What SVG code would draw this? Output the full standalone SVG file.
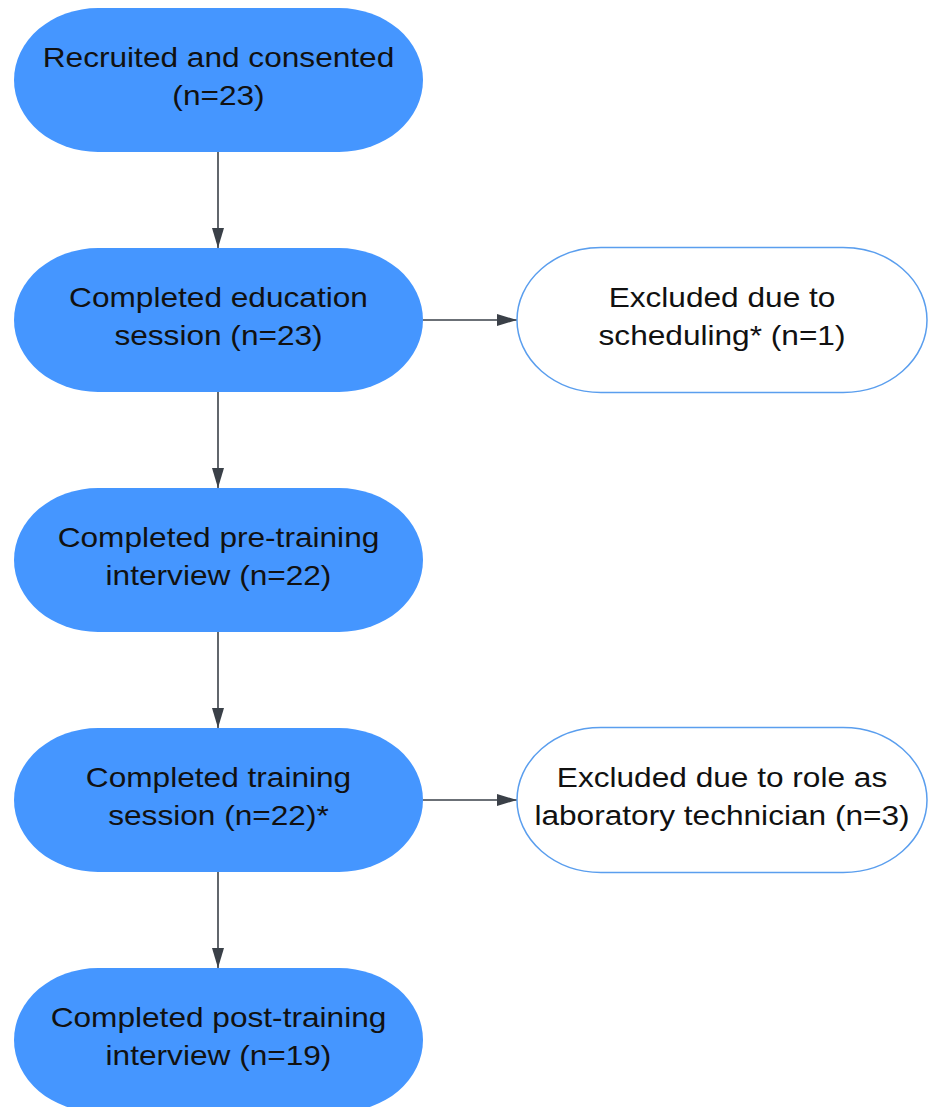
<svg xmlns="http://www.w3.org/2000/svg" width="930" height="1107" viewBox="0 0 930 1107">
  <defs>
    <style>
      .step { fill: #4596FF; stroke: none; }
      .excl { fill: #FFFFFF; stroke: #5A9EEE; stroke-width: 1.5; }
      .lbl { font-family: "Liberation Sans", Arial, sans-serif; font-size: 27.5px; fill: #111111; text-anchor: middle; }
      .link { stroke: #3A4048; stroke-width: 1.6; fill: none; }
    </style>
    <marker id="arrow" viewBox="0 0 20 12" refX="20" refY="6" markerWidth="20" markerHeight="12" markerUnits="userSpaceOnUse" orient="auto">
      <path d="M0,0 L20,6 L0,12 Z" fill="#3A4048"/>
    </marker>
  </defs>

  <rect width="930" height="1107" fill="#FFFFFF"/>

  <!-- connectors -->
  <g id="connectors">
    <line class="link" x1="218" y1="152" x2="218" y2="248" marker-end="url(#arrow)"/>
    <line class="link" x1="218" y1="392" x2="218" y2="488" marker-end="url(#arrow)"/>
    <line class="link" x1="218" y1="632" x2="218" y2="728" marker-end="url(#arrow)"/>
    <line class="link" x1="218" y1="872" x2="218" y2="968" marker-end="url(#arrow)"/>
    <line class="link" x1="423" y1="320" x2="517" y2="320" marker-end="url(#arrow)"/>
    <line class="link" x1="423" y1="800" x2="517" y2="800" marker-end="url(#arrow)"/>
  </g>

  <!-- main flow -->
  <g id="recruited">
    <rect class="step" x="14" y="8" width="409" height="144" rx="84" ry="72"/>
    <g transform="translate(218.5 0) scale(1.15 1)">
      <text class="lbl" x="0" y="67">Recruited and consented</text>
      <text class="lbl" x="0" y="105">(n=23)</text>
    </g>
  </g>

  <g id="education">
    <rect class="step" x="14" y="248" width="409" height="144" rx="84" ry="72"/>
    <g transform="translate(218.5 0) scale(1.15 1)">
      <text class="lbl" x="0" y="307">Completed education</text>
      <text class="lbl" x="0" y="345">session (n=23)</text>
    </g>
  </g>

  <g id="pre-interview">
    <rect class="step" x="14" y="488" width="409" height="144" rx="84" ry="72"/>
    <g transform="translate(218.5 0) scale(1.15 1)">
      <text class="lbl" x="0" y="547">Completed pre-training</text>
      <text class="lbl" x="0" y="585">interview (n=22)</text>
    </g>
  </g>

  <g id="training">
    <rect class="step" x="14" y="728" width="409" height="144" rx="84" ry="72"/>
    <g transform="translate(218.5 0) scale(1.15 1)">
      <text class="lbl" x="0" y="787">Completed training</text>
      <text class="lbl" x="0" y="825">session (n=22)*</text>
    </g>
  </g>

  <g id="post-interview">
    <rect class="step" x="14" y="968" width="409" height="144" rx="84" ry="72"/>
    <g transform="translate(218.5 0) scale(1.15 1)">
      <text class="lbl" x="0" y="1027">Completed post-training</text>
      <text class="lbl" x="0" y="1065">interview (n=19)</text>
    </g>
  </g>

  <!-- exclusions -->
  <g id="excluded-scheduling">
    <rect class="excl" x="517" y="247.5" width="410" height="145" rx="84" ry="72.5"/>
    <g transform="translate(722 0) scale(1.15 1)">
      <text class="lbl" x="0" y="307">Excluded due to</text>
      <text class="lbl" x="0" y="345">scheduling* (n=1)</text>
    </g>
  </g>

  <g id="excluded-lab-tech">
    <rect class="excl" x="517" y="727.5" width="410" height="145" rx="84" ry="72.5"/>
    <g transform="translate(722 0) scale(1.15 1)">
      <text class="lbl" x="0" y="787">Excluded due to role as</text>
      <text class="lbl" x="0" y="825">laboratory technician (n=3)</text>
    </g>
  </g>
</svg>
